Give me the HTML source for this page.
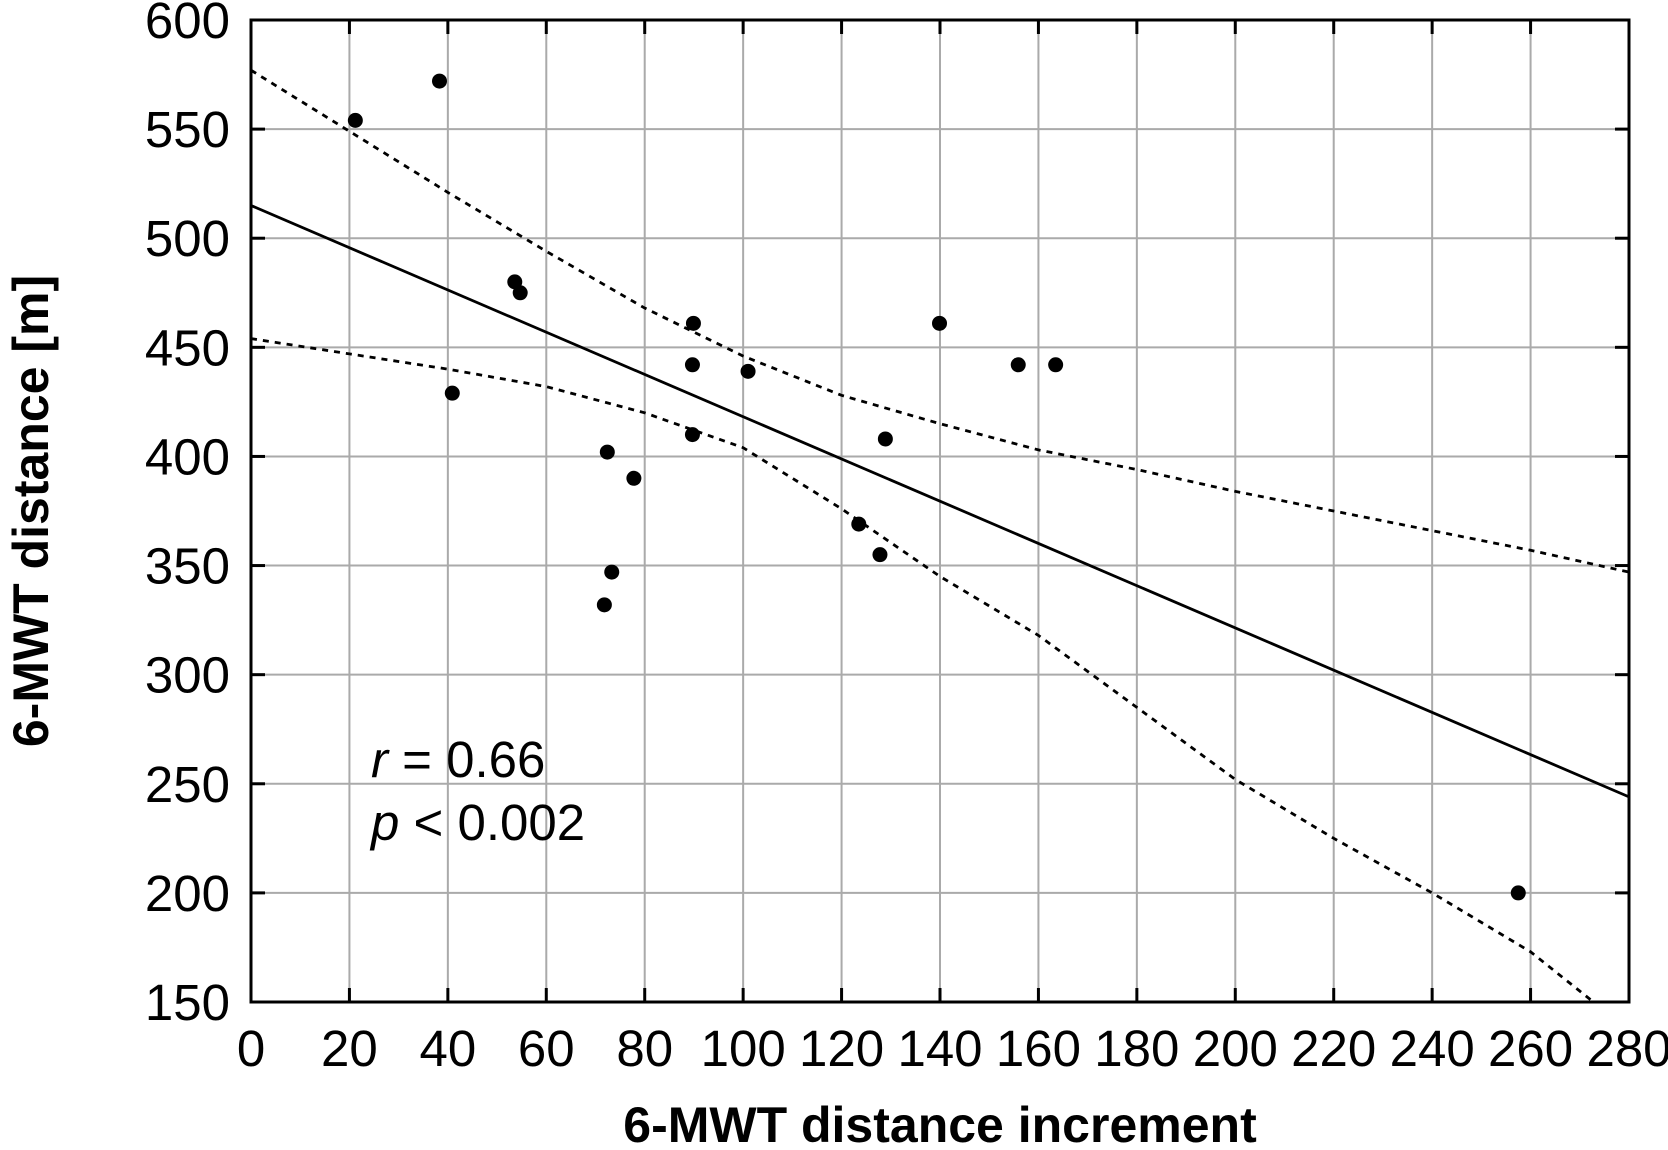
<!DOCTYPE html>
<html><head><meta charset="utf-8"><style>
body{margin:0;background:#fff;}
svg{display:block;font-family:"Liberation Sans",sans-serif;}
</style></head><body>
<svg id="chart" width="1668" height="1150" viewBox="0 0 1668 1150" xmlns="http://www.w3.org/2000/svg">
<g id="grid"></g>
<g id="bands"></g>
<g id="reg"></g>
<g id="pts"></g>
<rect x="251" y="20" width="1378" height="982" fill="none" stroke="#000" stroke-width="3"/>
<g id="ticks" font-size="51"></g>
<text x="371" y="777" font-size="51"><tspan font-style="italic">r</tspan> = 0.66</text>
<text x="371" y="840" font-size="51"><tspan font-style="italic">p</tspan> &lt; 0.002</text>
<text x="940" y="1142" font-size="50" font-weight="bold" text-anchor="middle">6-MWT distance increment</text>
<text transform="translate(48,511) rotate(-90)" font-size="50" font-weight="bold" text-anchor="middle">6-MWT distance [m]</text>
</svg>
<script>
const xTicks=[0,20,40,60,80,100,120,140,160,180,200,220,240,260,280];
const yTicks=[150,200,250,300,350,400,450,500,550,600];
const xs=[21.2,38.3,53.6,54.7,40.9,89.9,89.7,101,89.7,72.4,77.8,73.3,71.8,139.9,155.9,163.5,128.9,123.5,127.8,257.5];
const ys=[554,572,480,475,429,461,442,439,410,402,390,347,332,461,442,442,408,369,355,200];
const regX=[0,280];
const regY=[515,244];
const bandX=[0,20,40,60,80,100,120,140,160,180,200,220,240,260,280];
const upperY=[577,549,521,494,468,446,428,415,403,394,384,375,366,357,347];
const lowerY=[454,447,440,432,420,404,376,345,318,285,252,225,200,173,137];
const L=251,R=1629,T=20,B=1002;
const sx=v=>L+(v-0)/280*(R-L);
const sy=v=>B-(v-150)/450*(B-T);
const NS="http://www.w3.org/2000/svg";
function mk(t,a,p){const e=document.createElementNS(NS,t);for(const k in a)e.setAttribute(k,a[k]);p.appendChild(e);return e;}
const grid=document.getElementById('grid'),ticks=document.getElementById('ticks');
xTicks.forEach(v=>{const x=sx(v);
 const g=mk('line',{x1:x,x2:x,y1:T,y2:B,stroke:'#aaa','stroke-width':2},grid);
 
 
 [[B-14,B],[T,T+14]].forEach(([a,b])=>{const t=mk('line',{x1:x,x2:x,y1:a,y2:b,stroke:'#000','stroke-width':3},grid);
 
 });
 const l=mk('text',{x:x,y:1066,'text-anchor':'middle'},ticks);l.textContent=v;
 
 
});
yTicks.forEach(v=>{const y=sy(v);
 const g=mk('line',{x1:L,x2:R,y1:y,y2:y,stroke:'#aaa','stroke-width':2},grid);
 
 
 [[L,L+14],[R-14,R]].forEach(([a,b])=>{const t=mk('line',{x1:a,x2:b,y1:y,y2:y,stroke:'#000','stroke-width':3},grid);
 
 });
 const l=mk('text',{x:230,y:y+18,'text-anchor':'end'},ticks);l.textContent=v;
 
 
});
const bands=document.getElementById('bands');
const cp=mk('clipPath',{id:'clip'},bands);mk('rect',{x:L,y:T,width:R-L,height:B-T},cp);
[[upperY,'upper-confidence-band'],[lowerY,'lower-confidence-band']].forEach(([arr,n])=>{
 const p=mk('polyline',{points:bandX.map((x,i)=>sx(x)+','+sy(arr[i])).join(' '),fill:'none',stroke:'#000','stroke-width':2.8,'stroke-dasharray':'6 6','clip-path':'url(#clip)'},bands);
 
 
});
const reg=document.getElementById('reg');
const rl=mk('line',{x1:sx(regX[0]),y1:sy(regY[0]),x2:sx(regX[1]),y2:sy(regY[1]),stroke:'#000','stroke-width':2.8},reg);


const pts=document.getElementById('pts');
xs.forEach((x,i)=>{const c=mk('circle',{cx:sx(x),cy:sy(ys[i]),r:7.5,fill:'#000'},pts);
 
 
});
</script>
</body></html>
